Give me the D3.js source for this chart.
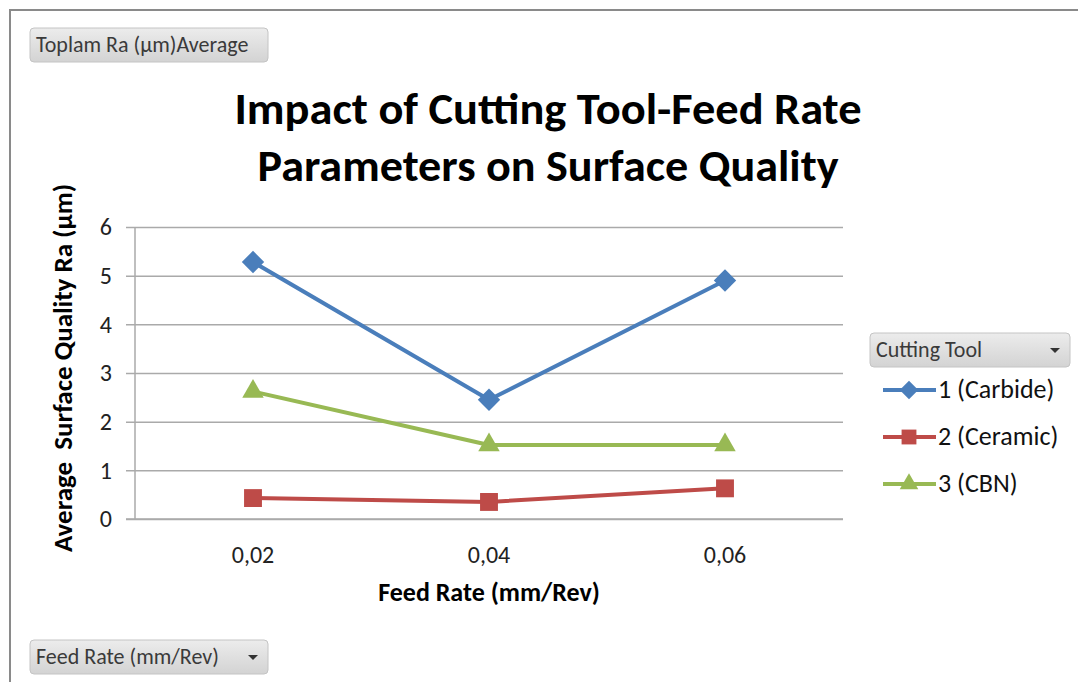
<!DOCTYPE html>
<html>
<head>
<meta charset="utf-8">
<script src="https://cdn.jsdelivr.net/npm/d3@7"></script>
<style>
  body { margin: 0; background: #fff; }
  svg { display: block; font-family: Carlito, "Open Sans", sans-serif; }
</style>
</head>
<body>
<svg id="chart"></svg>
<script>
const width = 1078;
const height = 682;

// data
const feedRates = ['0,02', '0,04', '0,06'];
const carbide = [5.28, 2.45, 4.9];
const ceramic = [0.43, 0.35, 0.63];
const cbn = [2.62, 1.52, 1.52];
const yTicks = [0, 1, 2, 3, 4, 5, 6];
const seriesNames = ['1 (Carbide)', '2 (Ceramic)', '3 (CBN)'];
const seriesColors = ['#4a7ebb', '#be4b48', '#98b954'];
const seriesShapes = [d3.symbolDiamond2, d3.symbolSquare, d3.symbolTriangle];

const series = [carbide, ceramic, cbn].map((vals, i) => ({
  name: seriesNames[i], color: seriesColors[i], shape: seriesShapes[i],
  values: vals.map((v, j) => ({ cat: feedRates[j], v: v }))
}));

const plot = { left: 135, right: 843, top: 227, bottom: 519 };
const font = 'Carlito, "Open Sans", sans-serif';

const svg = d3.select('#chart').attr('width', width).attr('height', height);

// outer frame
svg.append('path')
  .attr('d', `M10,${height} L10,10 L${width},10`)
  .attr('fill', 'none').attr('stroke', '#8a8a8a').attr('stroke-width', 2);

// button gradient
const grad = svg.append('defs').append('linearGradient')
  .attr('id', 'btn').attr('x1', 0).attr('y1', 0).attr('x2', 0).attr('y2', 1);
grad.append('stop').attr('offset', '0%').attr('stop-color', '#ececec');
grad.append('stop').attr('offset', '100%').attr('stop-color', '#d3d3d3');

function button(x, y, w, label, arrow) {
  const g = svg.append('g').attr('transform', `translate(${x},${y})`);
  g.append('rect').attr('width', w).attr('height', 34).attr('rx', 4)
    .attr('fill', 'url(#btn)').attr('stroke', '#c4c4c4');
  g.append('text').attr('x', 6).attr('y', 24).attr('font-size', 22)
    .attr('fill', '#3a3a3a').text(label);
  if (arrow) {
    g.append('path').attr('d', `M${w - 20},15 l10,0 l-5,5 z`).attr('fill', '#333');
  }
}
button(30, 28, 238, 'Toplam Ra (µm)Average', false);
button(30, 640, 238, 'Feed Rate (mm/Rev)', true);
button(870, 333, 200, 'Cutting Tool', true);

// title
const titleLines = [
  { t: 'Impact of Cutting Tool-Feed Rate', y: 124, w: 627 },
  { t: 'Parameters on Surface Quality', y: 181, w: 581 }
];
svg.selectAll('.title').data(titleLines).enter().append('text')
  .attr('class', 'title')
  .attr('x', 548).attr('y', d => d.y)
  .attr('text-anchor', 'middle')
  .attr('font-size', 44).attr('font-weight', 'bold').attr('fill', '#000')
  .attr('textLength', d => d.w).attr('lengthAdjust', 'spacingAndGlyphs')
  .text(d => d.t);

// scales
const x = d3.scaleBand().domain(feedRates).range([plot.left, plot.right]);
const y = d3.scaleLinear().domain([0, 6]).range([plot.bottom, plot.top]);

// gridlines + y axis
const yAxis = svg.append('g').attr('transform', `translate(${plot.left},0)`)
  .call(d3.axisLeft(y).tickValues(yTicks).tickFormat(d3.format('d'))
    .tickSize(-(plot.right - plot.left)).tickPadding(23));
yAxis.select('.domain').remove();
yAxis.selectAll('.tick line').attr('stroke', '#aaaaaa').attr('stroke-width', 1.5)
  .attr('x1', -9);
yAxis.selectAll('.tick text').attr('font-size', 24).attr('fill', '#222')
  .attr('font-family', font);

svg.append('line')
  .attr('x1', plot.left).attr('x2', plot.left)
  .attr('y1', plot.top).attr('y2', plot.bottom)
  .attr('stroke', '#aaaaaa').attr('stroke-width', 1.5);

// x axis
const xAxis = svg.append('g').attr('transform', `translate(0,${plot.bottom})`)
  .call(d3.axisBottom(x).tickSize(0).tickPadding(27));
xAxis.select('.domain').attr('stroke', '#aaaaaa').attr('stroke-width', 1.5)
  .attr('d', `M${plot.left - 9},0H${plot.right}`);
xAxis.selectAll('.tick text').attr('font-size', 24).attr('fill', '#222')
  .attr('font-family', font);

// axis titles
svg.append('text').attr('x', 489).attr('y', 601).attr('text-anchor', 'middle')
  .attr('font-size', 26).attr('font-weight', 'bold')
  .text('Feed Rate (mm/Rev)');
svg.append('text')
  .attr('transform', 'translate(72,368) rotate(-90)')
  .attr('text-anchor', 'middle').attr('font-size', 27).attr('font-weight', 'bold')
  .attr('xml:space', 'preserve')
  .text('Average  Surface Quality Ra (µm)');

// lines
const line = d3.line().x(d => x(d.cat) + x.bandwidth() / 2).y(d => y(d.v));
const sg = svg.selectAll('.series').data(series).enter().append('g').attr('class', 'series');
sg.append('path')
  .attr('d', d => line(d.values))
  .attr('fill', 'none').attr('stroke', d => d.color).attr('stroke-width', 4)
  .attr('stroke-linejoin', 'round');
sg.each(function (s) {
  d3.select(this).selectAll('path.mark').data(s.values).enter().append('path')
    .attr('class', 'mark')
    .attr('transform', d => `translate(${x(d.cat) + x.bandwidth() / 2},${y(d.v)})`)
    .attr('d', d3.symbol().type(s.shape).size(s.shape === d3.symbolTriangle ? 200 : 320))
    .attr('fill', s.color);
});

// legend
const legend = svg.append('g').attr('transform', 'translate(883,390)');
const li = legend.selectAll('g').data(series).enter().append('g')
  .attr('transform', (d, i) => `translate(0,${i * 47})`);
li.append('line').attr('x1', 0).attr('x2', 53)
  .attr('stroke', d => d.color).attr('stroke-width', 4);
li.append('path').attr('transform', 'translate(26,0)')
  .attr('d', d => d3.symbol().type(d.shape).size(d.shape === d3.symbolTriangle ? 150 : 220)())
  .attr('fill', d => d.color);
li.append('text').attr('x', 55).attr('y', 8).attr('font-size', 26).attr('fill', '#111')
  .text(d => d.name);
</script>
</body>
</html>
